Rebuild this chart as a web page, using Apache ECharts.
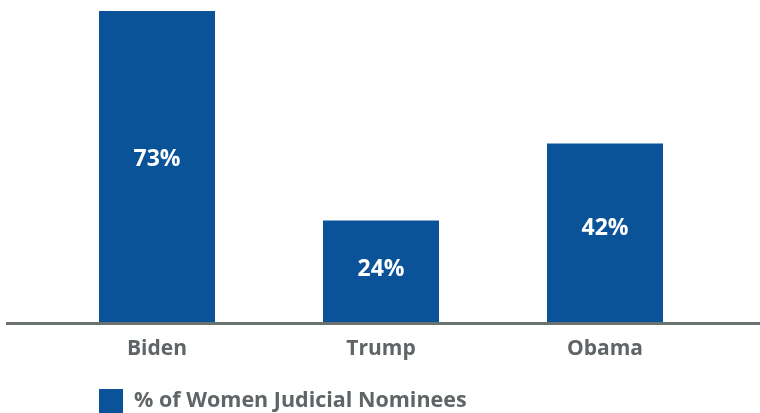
<!DOCTYPE html>
<html>
<head>
<meta charset="utf-8">
<script src="https://cdn.jsdelivr.net/npm/echarts@6/dist/echarts.min.js"></script>
<style>
  html, body { margin: 0; padding: 0; background: #ffffff; }
  #chart { width: 760px; height: 413px; }
</style>
</head>
<body>
<div id="chart"></div>
<script>
// Share of women among judicial nominees, by administration
var categories = ['Biden', 'Trump', 'Obama'];
var womenShare = [73, 24, 42];
var seriesName = '% of Women Judicial Nominees';

var BLUE = '#0b5399';
var GRAY_TEXT = '#5f6466';
var GRAY_LINE = '#6b7071';
var FONT = '"Open Sans", sans-serif';

var chart = echarts.init(document.getElementById('chart'), null, { renderer: 'canvas' });

chart.setOption({
  animation: false,
  backgroundColor: '#ffffff',
  grid: { left: 45, right: 43, top: 11, bottom: 90, containLabel: false },
  legend: {
    data: [seriesName],
    left: 99,
    top: 389,
    itemWidth: 24,
    itemHeight: 24,
    icon: 'rect',
    textStyle: {
      color: GRAY_TEXT, fontFamily: FONT, fontWeight: 'bold', fontSize: 21.5,
      padding: [2, 0, 0, 6]
    },
    padding: 0
  },
  xAxis: {
    type: 'category',
    data: categories,
    axisLine: { show: false },
    axisTick: { show: false },
    axisLabel: {
      color: GRAY_TEXT, fontFamily: FONT, fontWeight: 'bold', fontSize: 21, margin: 16
    }
  },
  yAxis: {
    type: 'value',
    min: 0,
    max: 73,
    show: false,
    splitLine: { show: false }
  },
  series: [{
    name: seriesName,
    type: 'bar',
    data: womenShare,
    barWidth: 116,
    itemStyle: { color: BLUE },
    label: {
      show: true,
      position: ['50%', '47.5%'],
      align: 'center',
      verticalAlign: 'middle',
      formatter: function (p) { return p.value + '%'; },
      color: '#ffffff',
      fontFamily: FONT,
      fontWeight: 'bold',
      fontSize: 23
    }
  }],
  graphic: [{
    // baseline running the full width under the bars
    type: 'line',
    shape: { x1: 6, y1: 323.5, x2: 760, y2: 323.5 },
    style: { stroke: GRAY_LINE, lineWidth: 3 },
    z: 10
  }]
});
</script>
</body>
</html>
